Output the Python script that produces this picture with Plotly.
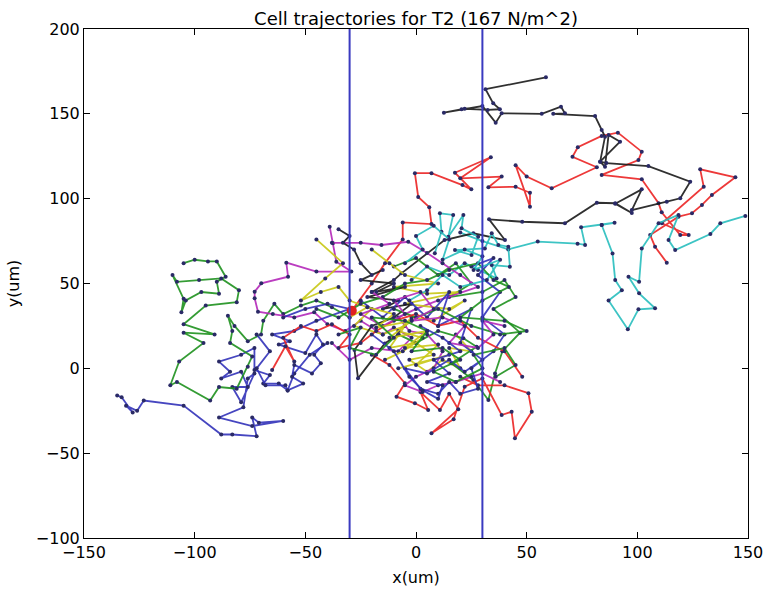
import plotly.graph_objects as go

# ---- data (um) ----
blue_a_x = [-40,-48,-55,-58,-62,-69,-66,-73,-73,-79,-89,-84,-88,-79,-76,-83,-79,-73,-76,-78,-89,-74,-60,-71,-74,-72,-83,-88,-105,-123,-126,-131,-128,-133,-135]
blue_a_y = [15,8,-3,-13,-9,-9,-4,-1,12,8,4,-2,-6,-2,-11,-11,-20,-3,-6,-23,-29,-34,-31,-32,-29,-40,-39,-39,-22,-19,-25,-22,-26,-17,-16]

green_a_x = [-105,-100,-94,-90,-86,-90,-89,-97,-104,-106,-105,-110,-108,-98,-88,-80,-81,-95,-105,-91,-105,-96,-107,-111,-108,-93,-89,-81,-76,-74,-84,-83,-85,-82,-76,-70,-69,-64,-60,-52,-45,-38,-30]
green_a_y = [62,64,63,63,54,51,44,45,40,33,41,55,51,52,53,46,39,37,26,20,21,15,4,-10,-8,-19,-11,-12,1,7,15,22,31,25,16,20,28,38,32,37,40,36,30]

red_a_x = [-29,-20,-14,-6,-6,7,6,1,-0.5,7,21,25,17.6,33.8,20,38.7,32.7,45,51.5,51.5,45,50,61.3,81.7,70.7,73.1,83.9,91.2,102,100.5,83.9,102,109.6,111,119.4,123.2,111.1,130,128.4,144.3,133.7,129.2,124.7,118.6,105.8,108,113.3]
red_a_y = [34,50,62,76,86,85,95,101,115,115,108,105.5,115.3,124.4,112,113,106.7,107,103.5,95.3,119.7,113,106.1,118.5,124.7,130.3,137,138.9,127.7,122.8,114,111.4,97.3,92,78.6,78.6,85.5,107,117.3,112.6,102.2,96.3,91.4,89.4,78.6,71.7,62.3]

cyan_a_x = [20,30,41.7,55,73,76.4,74.6,83.9,89.7,83.9,88.8,90,93,87,95.7,100.5,108,100.8,96,100.8,102,109.6,118.6,114.1,117.1,133,137.5,148.8]
cyan_a_y = [80,75,70.1,74.7,73.5,72.7,83.1,84.5,85.8,84.5,67.7,52,46,40,23,34.8,35.4,44.2,54,51,70.6,85.5,90.4,75.6,69.7,79.2,85.5,89.8]

magenta_a_x = [-39,-37.5,-36,-29.2,-45,-58.6,-57.8,-69.9,-72.9,-72.9,-71.4,-64.7,-55,-46,-40,-32,-25,-15,-10,-2,-8,-20,-30,-38]
magenta_a_y = [83.5,73.7,62.8,57,57,62.3,54,50.1,45.2,41.3,33.4,32,30,33,26,22,28,20,24,18,10,12,5,15]

yellow_a_x = [-45,-33,-41,-52,-43,-35,-30,-20,-28,-15,-5,-12,0,8,-3,5,12,20,15,25,18]
yellow_a_y = [76,62,53,40,45,48,40,35,25,20,25,12,15,8,5,-2,5,0,12,10,20]

black_a_x = [-20,-10,-6.6,12.9,25.9,40.2,33,48,67.3,81.7,90,97.5,90,102,97.5,113.3,119.4,123.9,105,86,83.2,92.2,87,85.4,83.2,85.4,83.9,80.9,62,67.3,65.5,56.8,38.7,36,30,20.6,12.6,22,32.4,37.9,34.9,31.4,58.7]
black_a_y = [45,52,56,75.6,79.6,75.6,87.8,86.4,85.5,97.6,97.3,91.5,97,105.5,93.3,98.2,100.2,110,119.2,121,121.8,133.6,137.5,118.8,121.8,136.5,140.5,148.7,150,150.3,154.2,150,150.3,144.8,154.6,152.7,150.7,153,152.3,152.7,156.2,164.5,171.5]

blue_b_x = [-60,-50,-40,-30,-45,-55,-65,-57,-62,-50,-45,-42,-46,-43,-47,-55,-56,-51,-58,-59,-68,-72,-66,-72]
blue_b_y = [30,35,38,35,28,22,20,16,14,9,20,14,8,3,-3,2,-5,-9,-13,-10,-10,0,10,20]

green_b_x = [-10,0,10,18,25,15,30,40,45,35,47,39,35.7,32.7,25.9,16,27.4,21.4,10,0,-8]
green_b_y = [60,65,55,62,50,42,45,52,42,35,21,10,-3,-18.7,-6.9,3,12.7,17.7,22,15,20]

red_b_x = [-20,-12,-5,-8.8,-0.5,5.5,2,10.8,15,19.1,7,17,22,30,38.7,43.2,44.7,52.3,50.8,40,28,20]
red_b_y = [8,2,-8.8,-16.7,-20.6,-24.6,-14,-24.6,-15,-24.1,-38.3,-30,-10.8,-6,-27.5,-25.6,-41.2,-25.6,-14.7,-10,-10,-5]

cyan_b_x = [8.5,11.5,10.8,16.8,14.6,21.4,20.6,28.1,25.1,17.6,31.1,34.2,37.2,41.7,42.4,34.2,36.4,28,22,15,5,-2]
cyan_b_y = [67.8,80.5,91.4,90.4,77.6,90.4,82.5,77.6,66.8,69.7,70.7,79.6,72.7,71.7,59.9,60.9,53,58,62,55,60,52]

magenta_b_x = [-38,-25,-15.6,-3.5,5,12,20,28,10,0,-8,-3,5,12,8,0,-5,3,10,18,25,30,38]
magenta_b_y = [74,74,72.7,74.6,68,62,55,48,40,35,30,22,20,10,0,-5,-10,-14,-10,-8,-5,-3,-8]

yellow_b_x = [-20,-12,-5,10,-10,5,20,-5,15,22,8,-2,-8,3,-6,-14]
yellow_b_y = [70,62,55,50,48,44,45,38,35,40,28,30,22,18,10,5]

black_b_x = [-35,-30,-33,-28,-25,-20,-15,-25,-10,-18,-5,-22,-8,-15,-2,-10,-20,-27.8,-26.2,-14.1,-8]
black_b_y = [82,78,74,70,62,55,58,52,50,45,48,42,40,35,38,30,25,10.8,-5.9,14.7,20]

blue_c_x = [-25,-15,-5,5,15,10,25,20,30,22,15,5,-5,2,10,15,20,28,25,35,40,30,38,28,35,25]
blue_c_y = [40,30,42,30,45,25,35,15,5,-2,5,-3,0,-12,-15,-8,-15,-12,0,10,20,30,45,55,65,60]

green_c_x = [-45,-35,-25,-15,-5,5,15,28,35,42,30,20,40,50,38,25,10,0,-10]
green_c_y = [35,30,38,42,50,52,58,62,52,48,40,30,28,22,20,25,35,30,35]

red_c_x = [-65,-59,-55,-60,-52,-45,-38,-30,-35,-25,-18,-10,0,10,20,28,40,48]
red_c_y = [-1,13,4,18,25,22,26,20,12,15,22,28,32,25,28,18,10,-5]

blue_d_x = [-20,-10,-3,3,10,12,5,15,8,20,12,2]
blue_d_y = [20,10,-5,-13,-18,-10,-8,-3,5,10,18,25]

cyan_c_x = [-5,3,0,8,15,12,22,30,26,38,32,20,12,5,-3]
cyan_c_y = [62,70,78,84,76,64,70,66,58,64,52,48,55,46,40]

green_d_x = [-35,-25,-30,-18,-10,-20,-5,5,-2,12,20,8,18,30,26,40,45,36]
green_d_y = [20,24,12,8,18,30,28,22,10,12,5,-2,-8,0,8,12,2,-5]

yellow_c_x = [-30,-22,-10,-18,-2,-12,5,-5,10,0,15,-8]
yellow_c_y = [30,36,32,24,28,18,22,12,14,2,8,0]

magenta_c_x = [-20,-12,-25,-15,-5,-10,2,8,-2,12,22,15,28,35,30,40]
magenta_c_y = [45,38,32,25,32,40,45,35,28,30,25,15,12,20,28,25]

start_x = [-29]
start_y = [34]

boundary_x = [-30, 30]

COL = {"b": "rgba(50,50,185,0.9)", "g": "rgba(30,145,30,0.9)", "r": "rgba(235,35,35,0.9)",
       "c": "rgba(40,190,190,0.9)", "m": "rgba(180,40,185,0.9)", "y": "rgba(200,200,20,0.9)",
       "k": "rgba(25,25,25,0.9)"}

trajs = [
    (blue_a_x, blue_a_y, "b"), (green_a_x, green_a_y, "g"), (red_a_x, red_a_y, "r"),
    (cyan_a_x, cyan_a_y, "c"), (magenta_a_x, magenta_a_y, "m"), (yellow_a_x, yellow_a_y, "y"),
    (black_a_x, black_a_y, "k"), (blue_b_x, blue_b_y, "b"), (green_b_x, green_b_y, "g"),
    (red_b_x, red_b_y, "r"), (cyan_b_x, cyan_b_y, "c"), (magenta_b_x, magenta_b_y, "m"),
    (yellow_b_x, yellow_b_y, "y"), (black_b_x, black_b_y, "k"), (blue_c_x, blue_c_y, "b"),
    (green_c_x, green_c_y, "g"), (red_c_x, red_c_y, "r"), (cyan_c_x, cyan_c_y, "c"),
    (magenta_c_x, magenta_c_y, "m"), (yellow_c_x, yellow_c_y, "y"), (blue_d_x, blue_d_y, "b"),
    (green_d_x, green_d_y, "g"),
]

fig = go.Figure()
for xs, ys, c in trajs:
    fig.add_trace(go.Scatter(x=xs, y=ys, mode="lines+markers",
                             line=dict(color=COL[c], width=1.8),
                             marker=dict(color="#2a2a66", size=4),
                             showlegend=False, hoverinfo="skip"))
fig.add_trace(go.Scatter(x=start_x, y=start_y, mode="markers",
                         marker=dict(color="#e02020", size=10), showlegend=False))

for bx in boundary_x:
    fig.add_shape(type="line", x0=bx, x1=bx, y0=0, y1=1, xref="x", yref="paper",
                  line=dict(color="#3a3ac0", width=2))

axis_common = dict(showline=True, linecolor="black", linewidth=1, mirror="allticks",
                   ticks="inside", ticklen=6, tickcolor="black", showgrid=False, zeroline=False,
                   automargin=False,
                   tickfont=dict(family="DejaVu Sans", size=16, color="black"))
fig.update_xaxes(range=[-150, 150], tickvals=[-150, -100, -50, 0, 50, 100, 150],
                 title=dict(text="x(um)", font=dict(family="DejaVu Sans", size=16, color="black"), standoff=10),
                 **axis_common)
fig.update_yaxes(range=[-100, 200], tickvals=[-100, -50, 0, 50, 100, 150, 200],
                 title=dict(text="y(um)", font=dict(family="DejaVu Sans", size=16, color="black"), standoff=12),
                 **axis_common)

fig.update_layout(
    width=765, height=594,
    margin=dict(l=84, r=17, t=29, b=56),
    paper_bgcolor="white", plot_bgcolor="white",
    title=dict(text="Cell trajectories for T2 (167 N/m^2)", x=0.5, xref="paper", xanchor="center",
               y=1, yref="paper", yanchor="bottom", pad=dict(b=4),
               font=dict(family="DejaVu Sans", size=18, color="black")),
)

fig.write_html("out.html")
